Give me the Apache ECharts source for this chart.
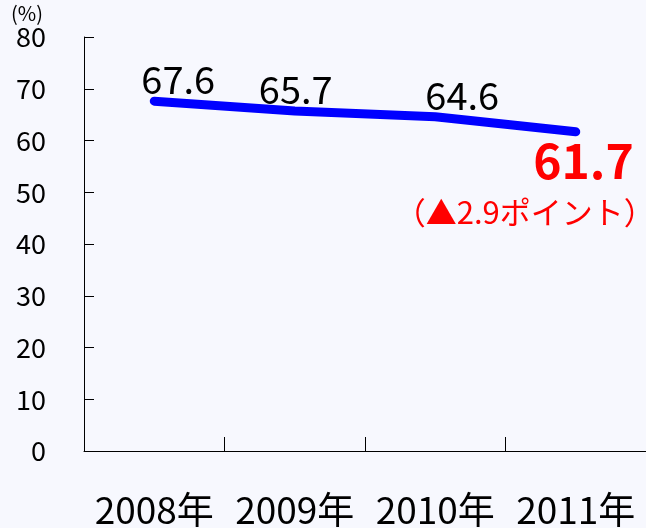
<!DOCTYPE html>
<html><head><meta charset="utf-8">
<script src="https://cdn.jsdelivr.net/npm/echarts@6/dist/echarts.min.js"></script>
<style>html,body{margin:0;padding:0;background:#f7f8fe}#c{width:646px;height:528px}</style>
</head><body><div id="c"></div>
<script>
const categories = ['2008年','2009年','2010年','2011年'];
const values = [67.6, 65.7, 64.6, 61.7];
const yTicks = [0,10,20,30,40,50,60,70,80];
const unitLabel = '(%)';
const changeNote = '（▲2.9ポイント）';

const FONT = '"Noto Sans CJK JP", sans-serif';
const labelOffsets = [[24,0],[1,0],[27,0]];
const data = values.map((v,i)=>{
  if (i < values.length-1) {
    return {value:v, label:{show:true, position:'top', distance:2, offset:labelOffsets[i],
      formatter:String(v.toFixed(1)), color:'#000', fontSize:38, fontFamily:FONT}};
  }
  return {value:v, label:{show:true, position:'bottom', distance:2, align:'right', offset:[79,0],
    formatter:'{a|'+v.toFixed(1)+'}\n{b|'+changeNote+'}',
    rich:{
      a:{color:'#ff0000', fontSize:48, fontWeight:'bold', fontFamily:FONT, align:'right', padding:[0,21,0,0], lineHeight:54},
      b:{color:'#ff0000', fontSize:31, fontFamily:FONT, align:'right', lineHeight:48}
    }}};
});

const chart = echarts.init(document.getElementById('c'), null, {renderer:'canvas'});
chart.setOption({
  backgroundColor:'#f7f8fe',
  animation:false,
  grid:{left:84, right:-4, top:37, bottom:77, containLabel:false},
  xAxis:{type:'category', data:categories, boundaryGap:true,
    axisLine:{lineStyle:{color:'#000', width:1}},
    axisTick:{show:true, inside:true, length:14, interval:0, lineStyle:{color:'#000'}, alignWithLabel:false},
    axisLabel:{color:'#000', fontSize:37, fontFamily:FONT, margin:40, interval:0, hideOverlap:false},
    splitLine:{show:false}},
  yAxis:{type:'value', min:yTicks[0], max:yTicks[yTicks.length-1], interval:10,
    name:unitLabel, nameLocation:'end', nameGap:1,
    nameTextStyle:{color:'#000', fontSize:20, fontFamily:FONT, align:'center', verticalAlign:'bottom', padding:[0,0,-9,-114]},
    axisLine:{show:true, lineStyle:{color:'#000', width:1}},
    axisTick:{show:true, inside:true, length:10, lineStyle:{color:'#000'}},
    axisLabel:{color:'#000', fontSize:27, fontFamily:FONT, margin:38},
    splitLine:{show:false}},
  series:[{type:'line', data:data, showSymbol:true, symbol:'circle', symbolSize:1,
    itemStyle:{color:'rgba(0,0,255,0)'},
    lineStyle:{color:'#0000ff', width:9, cap:'round', join:'round'}}]
});
</script></body></html>
